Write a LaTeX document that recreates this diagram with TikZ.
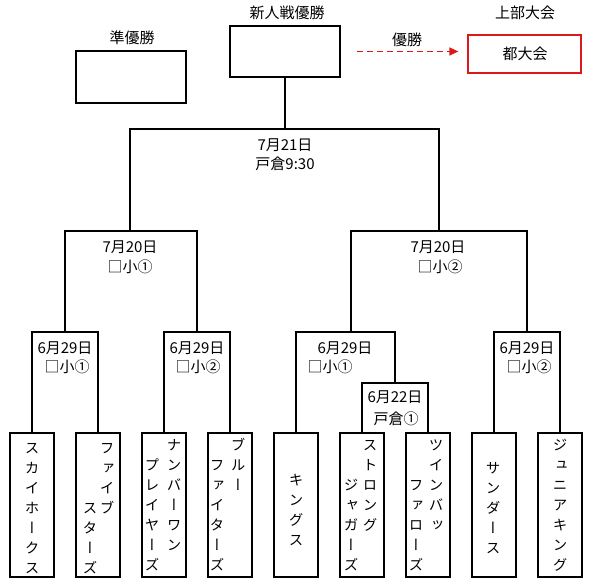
\documentclass[tikz,border=0pt]{standalone}
\usepackage{fontspec}
\setmainfont{Noto Sans CJK JP}
\newfontfamily\jpv[RawFeature=+vert]{Noto Sans CJK JP}
\usetikzlibrary{arrows.meta,fit}
\definecolor{tred}{RGB}{220,25,25}
\newcommand\vcol[4]{%
  \foreach \ch [count=\i] in {#4} {\node[kc] (#1-\i) at (#2,{#3+20*(\i-1)}) {\ch};}}
\begin{document}
\begin{tikzpicture}[x=1pt,y=-1pt,
  em/.style={inner sep=0pt,text height=13.2pt,text depth=1.8pt},
  lbl/.style={em,font=\fontsize{15}{15}\selectfont},
  kc/.style={em,font=\jpv\fontsize{14.5}{14.5}\selectfont},
  brkbox/.style={inner sep=0pt,draw=none},
  br/.style={line width=1.6pt,line join=miter},
  tbox/.style={draw,line width=1.6pt,minimum width=44pt,minimum height=144pt,inner sep=0pt},
  wbox/.style={draw,line width=1.6pt,inner sep=0pt},
  rbox/.style={draw=tred,line width=1.2pt,inner sep=0pt},
  rarrow/.style={draw=tred,line width=1.3pt,dash pattern=on 6pt off 4pt,-{Triangle[length=9pt,width=8pt,fill=tred]}}
]
\useasboundingbox (0,0) rectangle (594,586);

% top boxes
\node[wbox,fit={(76,51) (186,103)}] (runner) {};
\node[lbl] (runnerL) at (132,38) {準優勝};
\node[wbox,fit={(230,26) (340,77)}] (champ) {};
\node[lbl] (champL) at (287,13) {新人戦優勝};
\node[rbox,fit={(468,35) (581,73)}] (toto) {};
\node[lbl] (totoT) at (525,54) {都大会};
\node[lbl] (upL) at (525,13) {上部大会};
\draw[rarrow,shorten <=16pt,shorten >=9pt] (champ.east) -- (champ.east -| toto.west);
\node[lbl] (winL) at (407,40) {優勝};

% brackets
\node[brkbox,fit={(130,129) (439,231)}] (F) {};
\node[brkbox,fit={(65,231) (197,332)}] (SL) {};
\node[brkbox,fit={(351,231) (527,332)}] (SR) {};
\node[brkbox,fit={(32,332) (98,433)}] (Q1) {};
\node[brkbox,fit={(164,332) (230,433)}] (Q2) {};
\node[brkbox,fit={(296,332) (395,433)}] (Q3) {};
\node[brkbox,fit={(362,383) (428,433)}] (Q3b) {};
\node[brkbox,fit={(494,332) (560,433)}] (Q4) {};

\draw[br] (champ.south) -- (champ.south |- F.north);
\foreach \b in {F,SL,SR,Q1,Q2,Q4}
  \draw[br] (\b.south west) |- (\b.north east) -- (\b.south east);
\draw[br] (Q3.south west) |- (Q3.north east) -- (Q3.north east |- Q3b.north);
\draw[br] (Q3b.south west) |- (Q3b.north east) -- (Q3b.south east);

% bracket labels
\node[lbl] (FL1) at (285,145) {7月21日};
\node[lbl] (FL2) at (285,164) {戸倉9:30};
\node[lbl] (SLL1) at (130,247) {7月20日};
\node[lbl] (SLL2) at (130,267) {□小①};
\node[lbl] (SRL1) at (438,247) {7月20日};
\node[lbl] (SRL2) at (440,267) {□小②};
\node[lbl] (Q1L1) at (65,348) {6月29日};
\node[lbl] (Q1L2) at (67,367) {□小①};
\node[lbl] (Q2L1) at (197,348) {6月29日};
\node[lbl] (Q2L2) at (198,367) {□小②};
\node[lbl] (Q3L1) at (345,348) {6月29日};
\node[lbl] (Q3L2) at (330,367) {□小①};
\node[lbl] (Q3bL1) at (395,397) {6月22日};
\node[lbl] (Q3bL2) at (396,419) {戸倉①};
\node[lbl] (Q4L1) at (527,348) {6月29日};
\node[lbl] (Q4L2) at (529,367) {□小②};

% team boxes
\foreach \n/\x in {1/32,2/98,3/164,4/230,5/296,6/362,7/428,8/494,9/560}
  \node[tbox] (T\n) at (\x,505) {};

% team names (vertical)
\vcol{a1}{32}{448}{ス,カ,イ,ホ,ー,ク,ス}
\vcol{b1}{107}{448}{フ,ァ,イ,ブ}
\vcol{b2}{90}{508}{ス,タ,ー,ズ}
\vcol{c1}{174}{445}{ナ,ン,バ,ー,ワ,ン}
\vcol{c2}{152}{465}{プ,レ,イ,ヤ,ー,ズ}
\vcol{d1}{238}{445}{ブ,ル,ー}
\vcol{d2}{217}{465}{フ,ァ,イ,タ,ー,ズ}
\vcol{e1}{296}{480}{キ,ン,グ,ス}
\vcol{f1}{370}{445}{ス,ト,ロ,ン,グ}
\vcol{f2}{351}{485}{ジ,ャ,ガ,ー,ズ}
\vcol{g1}{436}{445}{ツ,イ,ン,バ,ッ}
\vcol{g2}{416}{485}{フ,ァ,ロ,ー,ズ}
\vcol{h1}{493}{468}{サ,ン,ダ,ー,ス}
\vcol{i1}{560}{445}{ジ,ュ,ニ,ア,キ,ン,グ}
\end{tikzpicture}
\end{document}
